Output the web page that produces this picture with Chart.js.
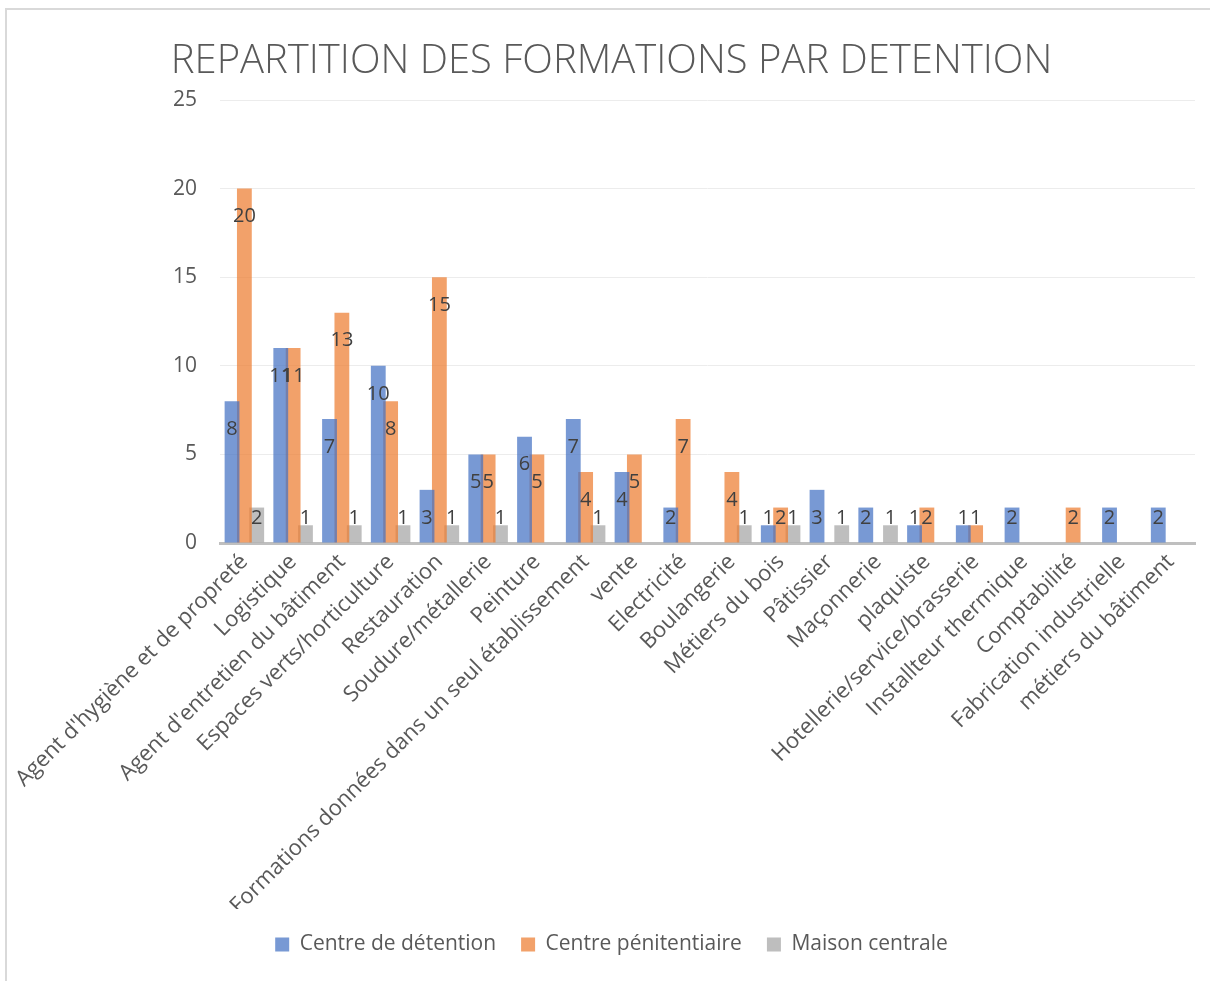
<!DOCTYPE html>
<html>
<head>
<meta charset="utf-8">
<script src="https://cdn.jsdelivr.net/npm/chart.js@4.4.1/dist/chart.umd.min.js"></script>
<style>
  html, body { margin: 0; padding: 0; background: #fff; }
  #frame { position: absolute; left: 5px; top: 8px; width: 1205px; height: 973px;
           border-left: 2px solid #d9d9d9; border-top: 2px solid #d9d9d9; box-sizing: border-box; }
  #wrap { position: absolute; left: 0; top: 0; width: 1210px; height: 981px; }
</style>
</head>
<body>
<div id="frame"></div>
<div id="wrap"><canvas id="chart"></canvas></div>
<script>
// ---- Daten ----
const categories = [
  "Agent d'hygiène et de propreté", "Logistique", "Agent d'entretien du bâtiment",
  "Espaces verts/horticulture", "Restauration", "Soudure/métallerie", "Peinture",
  "Formations données dans un seul établissement", "vente", "Electricité",
  "Boulangerie", "Métiers du bois", "Pâtissier", "Maçonnerie", "plaquiste",
  "Hotellerie/service/brasserie", "Installteur thermique", "Comptabilité",
  "Fabrication industrielle", "métiers du bâtiment"
];
const centreDetention     = [8, 11, 7, 10, 3, 5, 6, 7, 4, 2, null, 1, 3, 2, 1, 1, 2, null, 2, 2];
const centrePenitentiaire = [20, 11, 13, 8, 15, 5, 5, 4, 5, 7, 4, 2, null, null, 2, 1, null, 2, null, null];
const maisonCentrale      = [2, 1, 1, 1, 1, 1, null, 1, null, null, 1, 1, 1, 1, null, null, null, null, null, null];
const yTicks = [0, 5, 10, 15, 20, 25];

const FONT = "'Open Sans', sans-serif";
const TXT  = "#595959";

// ---- Datenbeschriftungen (wie Excel, innen oben) ----
const valueLabels = {
  id: "valueLabels",
  afterDatasetsDraw(chart) {
    const { ctx, chartArea } = chart;
    ctx.save();
    ctx.font = "20px " + FONT;
    ctx.fillStyle = "#404040";
    ctx.textAlign = "center";
    ctx.textBaseline = "middle";
    chart.data.datasets.forEach((ds, i) => {
      chart.getDatasetMeta(i).data.forEach((bar, j) => {
        const v = ds.data[j];
        if (v == null) return;
        const y = Math.min(bar.y + 28, chartArea.bottom - 25);
        ctx.fillText(String(v), bar.x, y);
      });
    });
    ctx.restore();
  }
};

const barOpts = { barPercentage: 1.2, categoryPercentage: 0.76, borderWidth: 0 };

new Chart(document.getElementById("chart"), {
  type: "bar",
  data: {
    labels: categories,
    datasets: [
      { label: "Centre de détention",  data: centreDetention,     backgroundColor: "rgba(68,114,196,0.72)",  ...barOpts },
      { label: "Centre pénitentiaire", data: centrePenitentiaire, backgroundColor: "rgba(237,125,49,0.72)",  ...barOpts },
      { label: "Maison centrale",      data: maisonCentrale,      backgroundColor: "rgba(165,165,165,0.72)", ...barOpts }
    ]
  },
  options: {
    responsive: true,
    maintainAspectRatio: false,
    animation: false,
    layout: { padding: { left: 28, right: 15, top: 10, bottom: 16 } },
    plugins: {
      title: {
        display: true,
        text: "REPARTITION DES FORMATIONS PAR DETENTION",
        color: TXT,
        font: { family: FONT, size: 40, weight: 300, lineHeight: 1.2 },
        padding: { top: 28, bottom: 14 }
      },
      legend: {
        position: "bottom",
        labels: { color: TXT, font: { family: FONT, size: 21 }, boxWidth: 14, boxHeight: 14, padding: 25 }
      },
      tooltip: { enabled: false }
    },
    scales: {
      x: {
        afterFit: (s) => { s.height = 366; },
        grid: { display: false, drawTicks: false },
        border: { color: "#bfbfbf", width: 3 },
        ticks: { color: TXT, font: { family: FONT, size: 22 }, minRotation: 45, maxRotation: 45, padding: 6 }
      },
      y: {
        min: 0, max: 25,
        afterBuildTicks: (s) => { s.ticks = yTicks.map(v => ({ value: v })); },
        afterFit: (s) => { s.width = 192; },
        grid: { color: "#ececec", drawTicks: false },
        border: { display: false },
        ticks: { color: TXT, font: { family: FONT, size: 21 }, padding: 23 }
      }
    }
  },
  plugins: [valueLabels]
});
</script>
</body>
</html>
